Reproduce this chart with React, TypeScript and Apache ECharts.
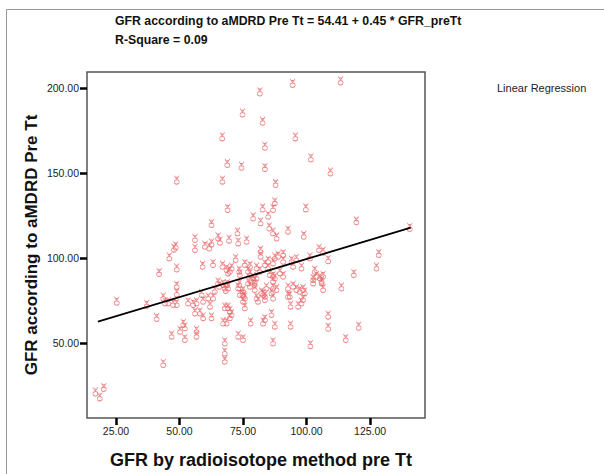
import React, { useEffect, useRef } from "react";
import * as echarts from "echarts";

const gfrIsotope = [
  81.6, 74.8, 82.7, 66.8, 83.6, 68.8, 74.4, 83.6, 48.9, 66.9, 87.8, 94.5, 113.4, 95.6, 101.7, 109.4,
  68.9, 82.7, 87.5, 86.8, 84.9, 99.7, 79.0, 62.6, 81.9, 85.3, 86.8, 88.2, 72.8, 92.7, 98.9, 119.6,
  140.6, 73.1, 76.4, 69.5, 65.2, 65.9, 56.1, 56.1, 60.0, 61.7, 62.6, 48.5, 47.8, 46.0, 81.9, 81.9,
  88.8, 87.5, 90.8, 94.1, 96.0, 101.3, 104.9, 106.5, 108.5, 128.4, 127.5, 90.8, 75.7, 77.7, 80.3, 83.6,
  84.9, 84.9, 86.8, 89.5, 90.8, 86.8, 94.7, 98.0, 103.2, 103.9, 105.2, 106.5, 105.9, 102.6, 79.0, 79.6,
  85.5, 87.5, 118.6, 59.1, 63.2, 48.9, 42.0, 66.9, 68.5, 69.1, 69.8, 70.5, 72.1, 73.5, 73.7, 77.0,
  77.7, 80.3, 81.6, 48.9, 48.9, 43.6, 44.3, 47.5, 48.9, 53.4, 55.4, 56.7, 58.7, 59.3, 61.3, 62.0,
  63.2, 63.9, 65.2, 65.6, 67.2, 67.8, 68.2, 68.8, 69.1, 73.1, 73.5, 73.7, 74.8, 75.3, 75.7, 75.0,
  75.0, 77.0, 77.7, 78.3, 79.6, 79.6, 80.3, 80.9, 82.9, 83.6, 84.2, 86.2, 86.8, 86.8, 86.8, 88.2,
  92.7, 92.7, 94.7, 96.0, 97.3, 98.6, 99.3, 98.6, 98.0, 96.7, 93.7, 93.4, 106.5, 113.7, 102.6, 105.9,
  82.3, 25.3, 37.1, 41.0, 45.6, 56.1, 58.0, 59.3, 62.6, 69.1, 67.8, 69.8, 70.5, 69.8, 68.5, 67.2,
  75.7, 78.0, 83.6, 82.9, 86.2, 87.5, 93.7, 108.5, 108.5, 120.5, 51.5, 52.1, 50.2, 46.9, 52.1, 56.7,
  56.7, 67.8, 67.8, 67.8, 73.1, 75.0, 86.8, 101.5, 115.4, 43.6, 16.9, 18.6, 20.2, 83.6,
];

const gfrMdrd = [
  198.1, 185.7, 180.8, 171.6, 166.1, 155.9, 154.3, 153.5, 146.1, 146.1, 144.1, 203.1, 204.6, 171.6, 159.2, 150.9,
  129.4, 129.7, 133.3, 129.4, 125.4, 129.7, 124.4, 120.5, 121.5, 118.5, 115.6, 112.6, 115.6, 116.6, 113.6, 122.1,
  118.2, 109.7, 110.7, 111.3, 112.6, 110.1, 111.7, 105.8, 107.7, 106.7, 109.1, 107.3, 106.0, 100.8, 104.8, 101.8,
  101.8, 100.8, 102.8, 98.9, 99.9, 100.8, 105.8, 104.2, 99.2, 102.8, 94.9, 98.9, 96.9, 95.9, 94.9, 96.9,
  94.9, 98.9, 97.9, 92.0, 90.0, 90.0, 95.9, 94.9, 93.0, 90.0, 89.0, 90.0, 87.1, 88.1, 89.0, 87.1,
  91.0, 89.0, 91.0, 95.9, 96.9, 94.3, 91.6, 95.9, 94.0, 92.0, 93.0, 94.9, 99.9, 93.0, 91.0, 93.0,
  91.0, 89.0, 93.0, 84.1, 79.6, 77.2, 74.3, 73.4, 73.4, 74.3, 73.4, 74.3, 79.3, 75.3, 77.2, 72.4,
  77.2, 81.2, 86.1, 84.1, 85.1, 83.1, 81.6, 85.1, 83.1, 83.1, 85.1, 79.3, 79.3, 78.2, 77.2, 81.2,
  75.3, 86.1, 84.1, 87.1, 85.1, 82.2, 77.2, 75.3, 79.3, 76.3, 83.1, 80.2, 77.2, 87.1, 83.1, 82.2,
  83.1, 78.2, 84.1, 82.2, 81.2, 82.2, 80.2, 76.3, 74.3, 72.4, 72.4, 78.2, 82.2, 83.1, 86.1, 86.1,
  80.2, 74.7, 72.8, 65.1, 74.3, 68.4, 68.4, 65.5, 65.5, 71.4, 71.4, 69.4, 67.5, 65.5, 62.5, 62.5,
  71.4, 62.5, 64.5, 62.5, 67.5, 60.6, 60.6, 66.5, 59.4, 60.0, 61.6, 59.6, 57.6, 54.7, 52.7, 57.6,
  54.7, 50.7, 44.8, 39.9, 54.7, 52.7, 50.7, 49.1, 52.7, 38.0, 21.2, 18.3, 23.8, 78.2,
];

const regressionLine = [
  [17.9, 62.5],
  [141.0, 117.9],
];

const xTicks = [25, 50, 75, 100, 125];
const yTicks = [50, 100, 150, 200];

const titleLines = [
  "GFR according to aMDRD Pre Tt = 54.41 + 0.45 * GFR_preTt",
  "R-Square = 0.09",
];
const legendText = "Linear Regression";
const xTitle = "GFR by radioisotope method pre Tt";
const yTitle = "GFR according to aMDRD Pre Tt";

const FONT = "'Liberation Sans', Arial, sans-serif";
const markerPath =
  "path://M2,0 L5,5 L8,0 M3.5,2.3 L6.5,2.3 M8,8.5 A3,3 0 1,1 2,8.5 A3,3 0 1,1 8,8.5 Z";

export default function App() {
  const ref = useRef<HTMLDivElement>(null);

  useEffect(() => {
    if (!ref.current) return;
    const chart = echarts.init(ref.current, null, { renderer: "svg" });
    const points = gfrIsotope.map((x, i) => [x, gfrMdrd[i]]);
    chart.setOption({
      animation: false,
      backgroundColor: "#ffffff",
      grid: {
        left: 87,
        top: 72,
        width: 338,
        height: 346,
        show: true,
        borderColor: "#555555",
        borderWidth: 1.5,
        backgroundColor: "transparent",
      },
      xAxis: {
        type: "value",
        min: 13.6,
        max: 146.6,
        axisLine: { show: false },
        splitLine: { show: false },
        axisTick: {
          show: true,
          inside: false,
          length: 7,
          customValues: xTicks,
          lineStyle: { color: "#000", width: 2.5 },
        },
        axisLabel: {
          customValues: xTicks,
          formatter: (v: number) => v.toFixed(2),
          fontFamily: FONT,
          fontSize: 10.5,
          color: "#222",
          margin: 7,
        },
      },
      yAxis: {
        type: "value",
        min: 5.7,
        max: 209.7,
        axisLine: { show: false },
        splitLine: { show: false },
        axisTick: {
          show: true,
          inside: false,
          length: 7,
          customValues: yTicks,
          lineStyle: { color: "#000", width: 2.5 },
        },
        axisLabel: {
          customValues: yTicks,
          formatter: (v: number) => v.toFixed(2),
          fontFamily: FONT,
          fontSize: 10.5,
          color: "#222",
          margin: 8,
        },
      },
      series: [
        {
          type: "scatter",
          data: points,
          symbol: markerPath,
          symbolSize: [5, 8.5],
          itemStyle: {
            color: "rgba(0,0,0,0)",
            borderColor: "#e8686c",
            borderWidth: 0.8,
          },
          z: 2,
        },
        {
          type: "line",
          data: regressionLine,
          showSymbol: false,
          symbol: "none",
          lineStyle: { color: "#000", width: 1.8 },
          z: 3,
        },
      ],
      graphic: [
        {
          type: "line",
          shape: { x1: 6.5, y1: 9.5, x2: 604, y2: 9.5 },
          style: { stroke: "#999", lineWidth: 1 },
        },
        {
          type: "line",
          shape: { x1: 6.5, y1: 9.5, x2: 6.5, y2: 474 },
          style: { stroke: "#999", lineWidth: 1 },
        },
        {
          type: "text",
          left: 115,
          top: 15,
          style: {
            text: titleLines[0],
            font: `bold 12.3px ${FONT}`,
            fill: "#111",
          },
        },
        {
          type: "text",
          left: 115,
          top: 34,
          style: {
            text: titleLines[1],
            font: `bold 12.3px ${FONT}`,
            fill: "#111",
          },
        },
        {
          type: "text",
          left: 497,
          top: 82,
          style: {
            text: legendText,
            font: `11px ${FONT}`,
            fill: "#222",
          },
        },
        {
          type: "text",
          x: 261,
          y: 460,
          style: {
            text: xTitle,
            font: `bold 18px ${FONT}`,
            fill: "#111",
            align: "center",
            verticalAlign: "middle",
          },
        },
        {
          type: "text",
          x: 31,
          y: 245,
          rotation: Math.PI / 2,
          style: {
            text: yTitle,
            font: `bold 17px ${FONT}`,
            fill: "#111",
            align: "center",
            verticalAlign: "middle",
          },
        },
      ],
    });
    return () => chart.dispose();
  }, []);

  return (
    <div
      ref={ref}
      style={{ position: "fixed", left: 0, top: 0, width: 604, height: 474 }}
    />
  );
}
